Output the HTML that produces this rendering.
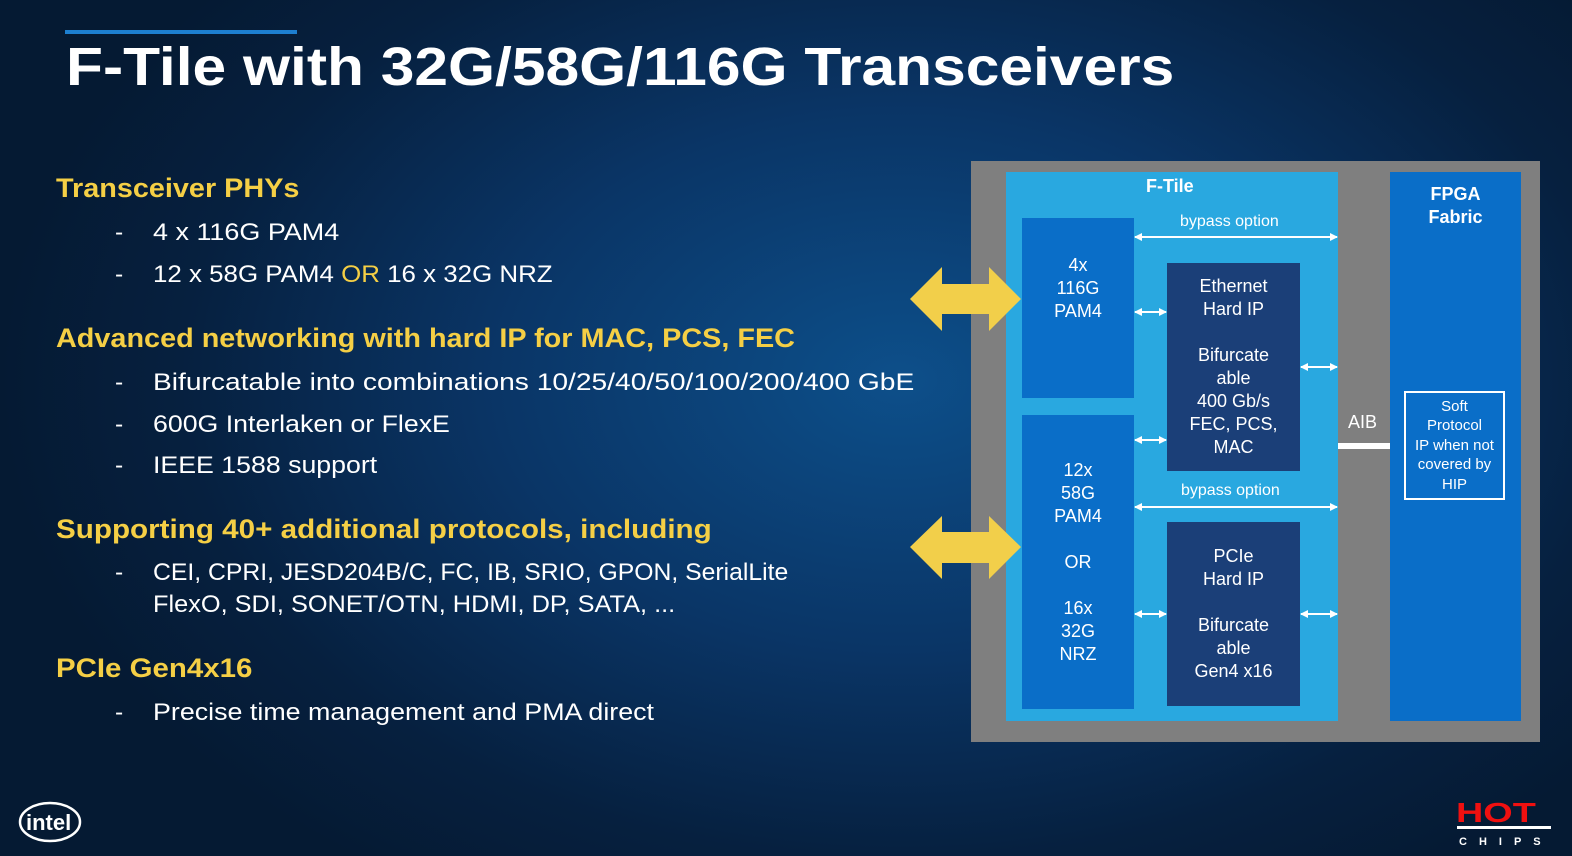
<!DOCTYPE html>
<html><head><meta charset="utf-8"><style>
*{margin:0;padding:0;box-sizing:border-box}
body{width:1572px;height:856px;overflow:hidden;position:relative;font-family:"Liberation Sans","DejaVu Sans",sans-serif;
background:radial-gradient(ellipse 900px 600px at 900px 380px,#0d4f8a 0%,#0a3566 45%,#06203f 80%,#051a33 100%);}
.a{position:absolute;white-space:nowrap}
.h{color:#f5cf45;font-weight:bold;font-size:27px;transform-origin:0 0}
.b{color:#fff;font-size:24.5px;transform-origin:0 0}
.d{color:#fff;font-size:24.5px}
.c{position:absolute;color:#fff;text-align:center;font-size:18px;line-height:23px;display:flex;flex-direction:column;align-items:center;justify-content:center}
</style></head><body>
<div class="a" style="left:65px;top:30px;width:232px;height:4px;background:#1d7fd0"></div>
<div class="a" style="left:66px;top:36px;font-size:54px;font-weight:bold;color:#fff;transform:scaleX(1.12);transform-origin:0 0">F-Tile with 32G/58G/116G Transceivers</div>

<div class="a h" style="left:56px;top:173px;transform:scaleX(1.067)">Transceiver PHYs</div>
<div class="a d" style="left:115px;top:219px">-</div><div class="a b" style="left:153px;top:219px;transform:scaleX(1.10)">4 x 116G PAM4</div>
<div class="a d" style="left:115px;top:261px">-</div><div class="a b" style="left:153px;top:261px;transform:scaleX(1.057)">12 x 58G PAM4 <span style="color:#f5cf45">OR</span> 16 x 32G NRZ</div>
<div class="a h" style="left:56px;top:323px;transform:scaleX(1.067)">Advanced networking with hard IP for MAC, PCS, FEC</div>
<div class="a d" style="left:115px;top:369px">-</div><div class="a b" style="left:153px;top:369px;transform:scaleX(1.15)">Bifurcatable into combinations 10/25/40/50/100/200/400 GbE</div>
<div class="a d" style="left:115px;top:411px">-</div><div class="a b" style="left:153px;top:411px;transform:scaleX(1.09)">600G Interlaken or FlexE</div>
<div class="a d" style="left:115px;top:452px">-</div><div class="a b" style="left:153px;top:452px;transform:scaleX(1.09)">IEEE 1588 support</div>
<div class="a h" style="left:56px;top:514px;transform:scaleX(1.097)">Supporting 40+ additional protocols, including</div>
<div class="a d" style="left:115px;top:559px">-</div><div class="a b" style="left:153px;top:559px;transform:scaleX(1.01)">CEI, CPRI, JESD204B/C, FC, IB, SRIO, GPON, SerialLite</div>
<div class="a b" style="left:153px;top:591px;transform:scaleX(1.034)">FlexO, SDI, SONET/OTN, HDMI, DP, SATA, ...</div>
<div class="a h" style="left:56px;top:653px;transform:scaleX(1.09)">PCIe Gen4x16</div>
<div class="a d" style="left:115px;top:699px">-</div><div class="a b" style="left:153px;top:699px;transform:scaleX(1.095)">Precise time management and PMA direct</div>

<!-- diagram -->
<div class="a" style="left:971px;top:161px;width:569px;height:581px;background:#7f7f7f"></div>
<div class="a" style="left:1006px;top:172px;width:332px;height:549px;background:#29a8e0"></div>
<div class="a" style="left:1390px;top:172px;width:131px;height:549px;background:#0a6ec8"></div>
<div class="a" style="left:1146px;top:176px;color:#fff;font-weight:bold;font-size:18px">F-Tile</div>
<div class="c" style="left:1390px;top:183px;width:131px;font-weight:bold;font-size:18px">FPGA<br>Fabric</div>
<div class="c" style="left:1022px;top:218px;width:112px;height:180px;background:#0a6ec8;padding-bottom:40px">4x<br>116G<br>PAM4</div>
<div class="c" style="left:1022px;top:415px;width:112px;height:294px;background:#0a6ec8">12x<br>58G<br>PAM4<br><br>OR<br><br>16x<br>32G<br>NRZ</div>
<div class="c" style="left:1167px;top:263px;width:133px;height:208px;background:#1b3f78">Ethernet<br>Hard IP<br><br>Bifurcate<br>able<br>400 Gb/s<br>FEC, PCS,<br>MAC</div>
<div class="c" style="left:1167px;top:522px;width:133px;height:184px;background:#1b3f78">PCIe<br>Hard IP<br><br>Bifurcate<br>able<br>Gen4 x16</div>
<div class="c" style="left:1404px;top:391px;width:101px;height:109px;border:2px solid #fff;font-size:15px;line-height:19.5px">Soft<br>Protocol<br>IP when not<br>covered by<br>HIP</div>
<div class="a" style="left:1180px;top:213px;color:#fff;font-size:16px">bypass option</div>
<div class="a" style="left:1181px;top:482px;color:#fff;font-size:16px">bypass option</div>
<div class="a" style="left:1348px;top:412px;color:#fff;font-size:18px">AIB</div>
<div class="a" style="left:1338px;top:443px;width:52px;height:6px;background:#fff"></div>
<svg class="a" style="left:0;top:0" width="1572" height="856">
<defs><marker id="m" markerWidth="8" markerHeight="8" refX="7" refY="4" orient="auto-start-reverse" markerUnits="userSpaceOnUse"><path d="M0,0 L8,4 L0,8 Z" fill="#fff"/></marker></defs>
<g stroke="#fff" stroke-width="2" marker-start="url(#m)" marker-end="url(#m)">
<line x1="1135" y1="237" x2="1337" y2="237"/>
<line x1="1135" y1="507" x2="1337" y2="507"/>
<line x1="1135" y1="312" x2="1166" y2="312"/>
<line x1="1135" y1="440" x2="1166" y2="440"/>
<line x1="1135" y1="614" x2="1166" y2="614"/>
<line x1="1301" y1="367" x2="1337" y2="367"/>
<line x1="1301" y1="614" x2="1337" y2="614"/>
</g>
<g fill="#f2cf4a">
<path d="M910,299 L942,267 L942,284 L989,284 L989,267 L1021,299 L989,331 L989,314 L942,314 L942,331 Z"/>
<path d="M910,547 L942,516 L942,532 L989,532 L989,516 L1021,547 L989,579 L989,563 L942,563 L942,579 Z"/>
</g>
<ellipse cx="50" cy="822" rx="30" ry="19" fill="none" stroke="#fff" stroke-width="2.5"/>
<text x="26" y="830" fill="#fff" font-size="22" font-weight="bold" font-family="Liberation Sans">intel</text>
</svg>
<div class="a" style="left:1456px;top:800px;font-size:28px;font-weight:900;color:#f01010;font-family:'Liberation Sans',sans-serif;line-height:26px;transform:scaleX(1.35);transform-origin:0 0">HOT</div>
<div class="a" style="left:1457px;top:826px;width:94px;height:3px;background:#fff"></div>
<div class="a" style="left:1459px;top:836px;font-size:11px;font-weight:bold;color:#fff;letter-spacing:12px">CHIPS</div>
</body></html>
